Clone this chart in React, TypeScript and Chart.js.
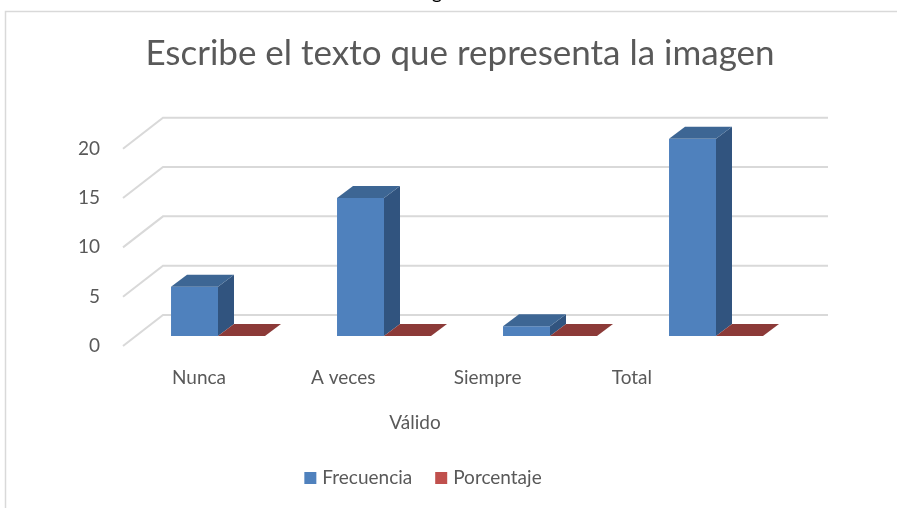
import React, { useEffect, useRef } from 'react';
import { Chart, registerables } from 'chart.js';

Chart.register(...registerables);

const categories = ['Nunca', 'A veces', 'Siempre', 'Total'];
const frecuencia = [5, 14, 1, 20];
const porcentaje = [0, 0, 0, 0];
const seriesNames = ['Frecuencia', 'Porcentaje'];
const yTickValues = [0, 5, 10, 15, 20];
const axisTitle = 'Válido';
const chartTitle = 'Escribe el texto que representa la imagen';

const FONT = 'Lato, "Open Sans", sans-serif';
const TEXT = '#595959';
const FRONT = ['#4f81bd', '#c0504d'];
const TOP = ['#3d6694', '#8c3a38'];
const SIDE = ['#31547f', '#7a302e'];
const DX = 16;
const DY = -12;
const WALL_DX = 28;
const WALL_DY = -21;
const SIDE_DX = -40;
const SIDE_DY = 31;

const threeD = {
  id: 'threeD',
  beforeDraw(chart: any) {
    const ctx = chart.ctx;
    ctx.save();
    ctx.fillStyle = '#ffffff';
    ctx.fillRect(0, 0, chart.width, chart.height);
    ctx.strokeStyle = '#d9d9d9';
    ctx.lineWidth = 1.5;
    ctx.beginPath();
    ctx.moveTo(5.5, chart.height + 5);
    ctx.lineTo(5.5, 11.5);
    ctx.lineTo(chart.width + 5, 11.5);
    ctx.stroke();
    ctx.fillStyle = '#000000';
    ctx.font = '20px ' + FONT;
    ctx.textAlign = 'center';
    ctx.textBaseline = 'alphabetic';
    ctx.fillText('g', 437, -1);
    ctx.restore();
  },
  beforeDatasetsDraw(chart: any) {
    const { ctx, chartArea, scales } = chart;
    const y = scales.y;
    const x = scales.x;
    ctx.save();
    ctx.strokeStyle = '#d9d9d9';
    ctx.lineWidth = 2;
    const wl = x.left + WALL_DX;
    const wr = x.right + WALL_DX + 1;
    y.ticks.forEach((t: any) => {
      const py = y.getPixelForValue(t.value) + WALL_DY;
      ctx.beginPath();
      ctx.moveTo(wl + SIDE_DX, py + SIDE_DY);
      ctx.lineTo(wl, py);
      ctx.lineTo(wr, py);
      ctx.stroke();
    });
    ctx.restore();
  },
  afterDatasetsDraw(chart: any) {
    const ctx = chart.ctx;
    ctx.save();
    chart.data.datasets.forEach((ds: any, di: number) => {
      const meta = chart.getDatasetMeta(di);
      meta.data.forEach((el: any) => {
        const { x, y, base, width } = el.getProps(['x', 'y', 'base', 'width'], true);
        const l = x - width / 2;
        const r = x + width / 2;
        if (base - y > 0.5) {
          ctx.fillStyle = SIDE[di];
          ctx.beginPath();
          ctx.moveTo(r, y);
          ctx.lineTo(r + DX, y + DY);
          ctx.lineTo(r + DX, base + DY);
          ctx.lineTo(r, base);
          ctx.closePath();
          ctx.fill();
        }
        ctx.fillStyle = TOP[di];
        ctx.beginPath();
        ctx.moveTo(l, y);
        ctx.lineTo(r, y);
        ctx.lineTo(r + DX, y + DY);
        ctx.lineTo(l + DX, y + DY);
        ctx.closePath();
        ctx.fill();
      });
    });

    ctx.font = '19px ' + FONT;
    ctx.fillStyle = TEXT;
    ctx.textAlign = 'center';
    ctx.textBaseline = 'middle';
    ctx.fillText(axisTitle, 415, 423);

    const box = 12;
    const gapBoxText = 6;
    const gapItems = 23;
    const widths = chart.data.datasets.map((d: any) => ctx.measureText(d.label).width);
    let total = 0;
    widths.forEach((w: number, i: number) => {
      total += box + gapBoxText + w + (i < widths.length - 1 ? gapItems : 0);
    });
    let cx = 423 - total / 2;
    const ly = 478;
    ctx.textAlign = 'left';
    chart.data.datasets.forEach((d: any, i: number) => {
      ctx.fillStyle = FRONT[i];
      ctx.fillRect(cx, ly - box / 2, box, box);
      cx += box + gapBoxText;
      ctx.fillStyle = TEXT;
      ctx.fillText(d.label, cx, ly);
      cx += widths[i] + gapItems;
    });
    ctx.restore();
  },
};

export default function App() {
  const ref = useRef<HTMLCanvasElement | null>(null);
  useEffect(() => {
    document.body.style.margin = '0';
    if (!ref.current) return;
    const chart = new Chart(ref.current, {
      type: 'bar',
      data: {
        labels: categories,
        datasets: [
          {
            label: seriesNames[0],
            data: frecuencia,
            backgroundColor: FRONT[0],
            borderWidth: 0,
            categoryPercentage: 0.566,
            barPercentage: 1,
          },
          {
            label: seriesNames[1],
            data: porcentaje,
            backgroundColor: FRONT[1],
            borderWidth: 0,
            categoryPercentage: 0.566,
            barPercentage: 1,
          },
        ],
      },
      options: {
        responsive: false,
        animation: false,
        devicePixelRatio: 1,
        layout: { padding: { left: 23, right: 0, top: 0, bottom: 0 } },
        plugins: {
          legend: { display: false },
          tooltip: { enabled: false },
          title: {
            display: true,
            text: chartTitle,
            color: TEXT,
            font: { family: FONT, size: 35, weight: 'normal' },
            padding: { top: 33.2, bottom: 63.5 },
          },
        },
        scales: {
          x: { display: false },
          x2: {
            type: 'linear',
            position: 'bottom',
            offset: false,
            min: -0.4435,
            max: 4.158,
            grid: { display: false, drawTicks: false, offset: false },
            border: { display: false },
            afterBuildTicks: (scale: any) => {
              scale.ticks = categories.map((_, i) => ({ value: i }));
            },
            afterFit: (scale: any) => {
              scale.height = 172;
            },
            ticks: {
              color: TEXT,
              font: { family: FONT, size: 19 },
              padding: 30,
              maxRotation: 0,
              autoSkip: false,
              callback: (v: any) => categories[v] ?? '',
            },
          },
          y: {
            min: 0,
            max: 20,
            grid: { display: false, drawTicks: false },
            border: { display: false },
            afterBuildTicks: (scale: any) => {
              scale.ticks = yTickValues.map((v) => ({ value: v }));
            },
            afterFit: (scale: any) => {
              scale.width = 112;
            },
            ticks: {
              color: TEXT,
              font: { family: FONT, size: 19 },
              padding: 35,
              labelOffset: 10,
            },
          },
          y2: {
            type: 'linear',
            position: 'right',
            display: true,
            grid: { display: false, drawTicks: false },
            border: { display: false },
            ticks: { display: false },
            afterFit: (scale: any) => {
              scale.width = 98;
            },
          },
        },
      },
      plugins: [threeD],
    } as any);
    return () => chart.destroy();
  }, []);
  return (
    <div style={{ width: 897, height: 508 }}>
      <canvas ref={ref} width={897} height={508} style={{ display: 'block' }} />
    </div>
  );
}
